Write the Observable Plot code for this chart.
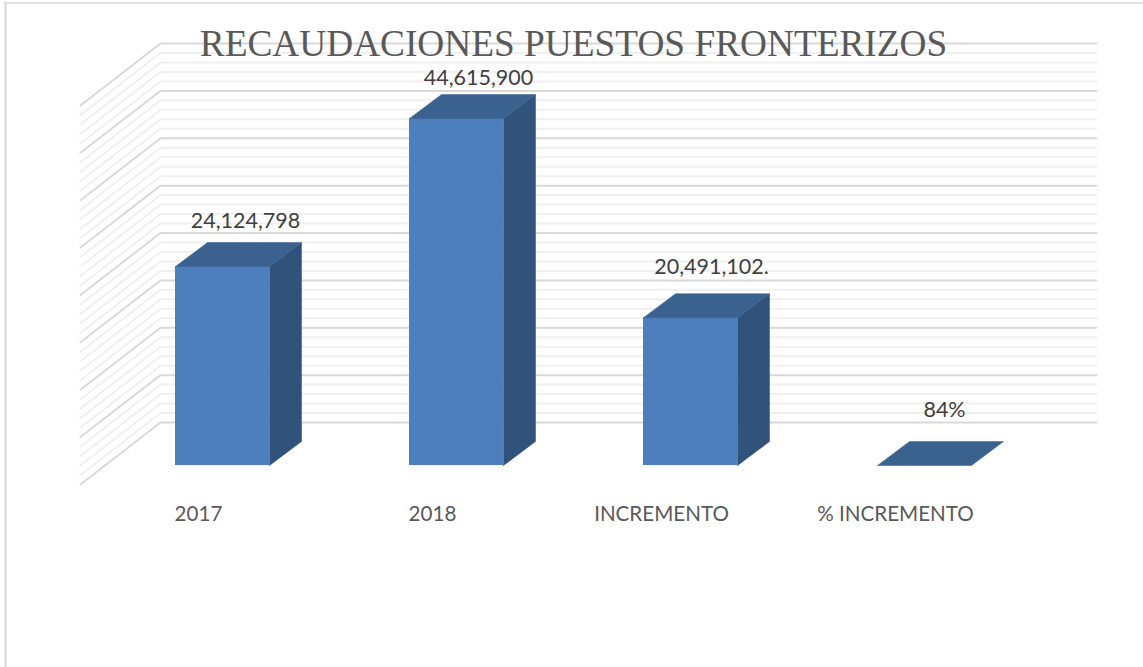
<!DOCTYPE html>
<html>
<head>
<meta charset="utf-8">
<script src="https://cdn.jsdelivr.net/npm/d3@7"></script>
<script src="https://cdn.jsdelivr.net/npm/@observablehq/plot@0.6"></script>
<style>
html,body{margin:0;padding:0;background:#fff;overflow:hidden}
svg{display:block}
</style>
</head>
<body>
<div id="chart"></div>
<script>
const titleText = "RECAUDACIONES PUESTOS FRONTERIZOS";
const categories = ["2017", "2018", "INCREMENTO", "% INCREMENTO"];
// Printed data labels
const valueLabels = ["24,124,798", "44,615,900", "20,491,102.", "84%"];
const barHeights = [26.25, 45.78, 19.5, 0];
const axisMax = 50;
const majorStep = 6.25;
const minorStep = 1.25;

// Pseudo-3D geometry, in the units of the x (category index) and y (millions) scales
const halfWidth = 0.2009, depthX = 0.1368, depthY = 3.166;
const wallFront = -0.607, wallBack = -0.265, wallRight = 3.735;
const floorFront = -2.5, floorBack = 5.67;

const bars = categories.map((c, i) => ({i, c, v: barHeights[i], label: valueLabels[i]}));

function wallLine(v) {
  return [
    {x: wallFront, y: v + floorFront, z: v},
    {x: wallBack, y: v + floorBack, z: v},
    {x: wallRight, y: v + floorBack, z: v}
  ];
}
const majorValues = d3.range(0, axisMax + 0.001, majorStep);
const minorValues = d3.range(0, axisMax + 0.001, minorStep).filter(v => !majorValues.includes(v));
const minorGrid = minorValues.flatMap(wallLine);
const majorGrid = majorValues.flatMap(wallLine);

const sideFaces = bars.filter(b => b.v > 0).flatMap(b => {
  const r = b.i + halfWidth;
  return [
    {x: r, y: 0, z: b.i},
    {x: r + depthX, y: depthY, z: b.i},
    {x: r + depthX, y: b.v + depthY, z: b.i},
    {x: r, y: b.v, z: b.i},
    {x: r, y: 0, z: b.i}
  ];
});
const topFaces = bars.flatMap(b => {
  const l = b.i - halfWidth, r = b.i + halfWidth;
  return [
    {x: l, y: b.v, z: b.i},
    {x: l + depthX, y: b.v + depthY, z: b.i},
    {x: r + depthX, y: b.v + depthY, z: b.i},
    {x: r, y: b.v, z: b.i},
    {x: l, y: b.v, z: b.i}
  ];
});

const sans = "Lato, 'Open Sans', sans-serif";
const labelNudge = [
  {dx: 23, dy: -45},
  {dx: 22, dy: -40},
  {dx: 21, dy: -51},
  {dx: 20, dy: -55}
];
const lineOpts = {x: "x", y: "y", z: "z", curve: "linear"};

const plot = Plot.plot({
  width: 1143,
  height: 667,
  marginTop: 0, marginLeft: 0, marginRight: 0, marginBottom: 0,
  style: {background: "#fff", overflow: "visible"},
  x: {type: "linear", domain: [0, 3], range: [222, 924], axis: null},
  y: {type: "linear", domain: [0, axisMax], range: [465, 86], axis: null},
  marks: [
    Plot.frame({anchor: "left", stroke: "#d9d9d9", strokeWidth: 2, dx: 5, insetTop: 2}),
    Plot.frame({anchor: "top", stroke: "#d9d9d9", strokeWidth: 1.5, dy: 2.5, insetLeft: 4}),
    Plot.line(minorGrid, {...lineOpts, stroke: "#f0f0f0", strokeWidth: 2}),
    Plot.line(majorGrid, {...lineOpts, stroke: "#d9d9d9", strokeWidth: 2}),
    Plot.rectY(bars, {
      x1: d => d.i - halfWidth, x2: d => d.i + halfWidth,
      y1: 0, y2: "v", fill: "#4e7fbd"
    }),
    Plot.line(sideFaces, {...lineOpts, fill: "#31527a", stroke: "#31527a", strokeWidth: 0.5}),
    Plot.line(topFaces, {...lineOpts, fill: "#3b628f", stroke: "#3b628f", strokeWidth: 0.5}),
    ...bars.map((b, k) => Plot.text([b], {
      x: "i", y: "v", text: "label",
      dx: labelNudge[k].dx, dy: labelNudge[k].dy,
      fontFamily: sans, fontSize: 21.5, fill: "#404040"
    })),
    Plot.axisX({
      ticks: [0, 1], tickFormat: i => categories[i], tickSize: 0, tickPadding: 0,
      dx: -24, dy: -161, label: null, fontFamily: sans, fontSize: 20.6, color: "#595959"
    }),
    Plot.axisX({
      ticks: [2, 3], tickFormat: i => categories[i], tickSize: 0, tickPadding: 0,
      dx: -29, dy: -161, label: null, fontFamily: sans, fontSize: 20.6, color: "#595959"
    }),
    Plot.text([titleText], {
      x: () => 1.5, frameAnchor: "top", dy: 44, lineAnchor: "middle",
      text: d => d, fontFamily: "'Liberation Serif', serif", fontSize: 37.3, fill: "#595959"
    })
  ]
});
document.getElementById("chart").append(plot);
</script>
</body>
</html>
